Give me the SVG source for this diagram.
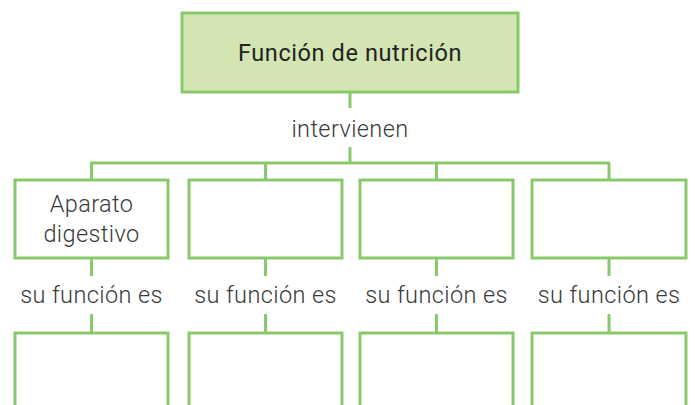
<svg xmlns="http://www.w3.org/2000/svg" width="695" height="405" viewBox="0 0 695 405">
<style>
.box{fill:#ffffff;stroke:#88c96a;stroke-width:3}
.top{fill:#d2e5b3;stroke:#88c96a;stroke-width:3}
.ln{fill:none;stroke:#88c96a;stroke-width:3}
.t{font-family:Roboto,"Liberation Sans",sans-serif;font-size:23.5px;font-weight:300;letter-spacing:0.4px;fill:#3a3a3a;text-anchor:middle}
.tt{font-family:Roboto,"Liberation Sans",sans-serif;font-size:23.5px;font-weight:400;letter-spacing:0.6px;fill:#222;text-anchor:middle}
</style>
<rect width="695" height="405" fill="#ffffff"/>
<g id="connectors">
<path class="ln" d="M350 92V108M350 147V163M90 163H610M91.5 163V180M265.5 163V180M436.5 163V180M609 163V180"/>
<path class="ln" d="M91.5 258V276M265.5 258V276M436.5 258V276M609 258V276"/>
<path class="ln" d="M91.5 314V333M265.5 314V333M436.5 314V333M609 314V333"/>
</g>
<g id="n-top"><rect class="top" x="182" y="13" width="336" height="79"/><text class="tt" x="350" y="61">Función de nutrición</text></g>
<g id="lbl-intervienen"><text class="t" x="350" y="137">intervienen</text></g>
<g id="n1"><rect class="box" x="15" y="180" width="153" height="78"/><text class="t" x="91.5" y="212">Aparato</text><text class="t" x="91.5" y="242">digestivo</text></g>
<g id="n2"><rect class="box" x="189" y="180" width="153" height="78"/></g>
<g id="n3"><rect class="box" x="360" y="180" width="153" height="78"/></g>
<g id="n4"><rect class="box" x="532" y="180" width="154" height="78"/></g>
<g id="labels">
<text class="t" x="91.5" y="303">su función es</text>
<text class="t" x="265.5" y="303">su función es</text>
<text class="t" x="436.5" y="303">su función es</text>
<text class="t" x="609" y="303">su función es</text>
</g>
<g id="m1"><rect class="box" x="15" y="333" width="153" height="90"/></g>
<g id="m2"><rect class="box" x="189" y="333" width="153" height="90"/></g>
<g id="m3"><rect class="box" x="360" y="333" width="153" height="90"/></g>
<g id="m4"><rect class="box" x="532" y="333" width="154" height="90"/></g>
</svg>
